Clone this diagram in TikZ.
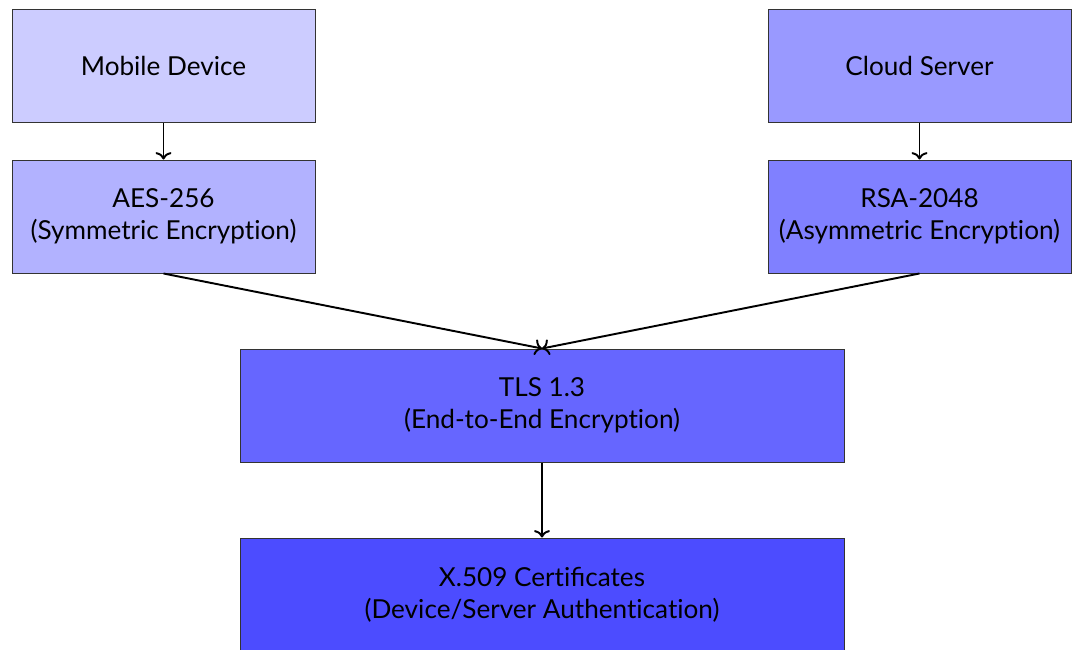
\documentclass[tikz,border=0pt]{standalone}
\usepackage{fontspec}
\setmainfont{Lato}[Ligatures=NoCommon]
\usetikzlibrary{arrows.meta}
\begin{document}
\begin{tikzpicture}[x=0.75pt,y=-0.75pt,
  box/.style={draw=black!80,line width=0.75pt,minimum width=227.25pt,minimum height=84.75pt,
    inner sep=0pt,align=center,font=\fontsize{19.6}{24}\selectfont},
  wide/.style={box,minimum width=453pt},
  link/.style={-{To[length=5.5pt,width=12pt]},line width=1.45pt,black}]
\useasboundingbox (0,0) rectangle (1072,650);
\begin{scope}
\clip (0,0) rectangle (1072,650);
\node[box,fill=blue!20] (mob) at (163.5,66) {Mobile Device};
\node[box,fill=blue!30] (aes) at (163.5,216.5) {AES-256\\(Symmetric Encryption)};
\node[box,fill=blue!40] (cld) at (919.5,66) {Cloud Server};
\node[box,fill=blue!50] (rsa) at (919.5,216.5) {RSA-2048\\(Asymmetric Encryption)};
\node[wide,fill=blue!60] (tls) at (542,405.5) {TLS 1.3\\(End-to-End Encryption)};
\node[wide,fill=blue!70] (x509) at (542,594.5) {X.509 Certiﬁcates\\(Device/Server Authentication)};
\draw[link] (mob) -- (aes);
\draw[link] (cld) -- (rsa);
\draw[link] (aes.south) -- (tls.north);
\draw[link] (rsa.south) -- (tls.north);
\draw[link] (tls) -- (x509);
\end{scope}
\end{tikzpicture}
\end{document}
